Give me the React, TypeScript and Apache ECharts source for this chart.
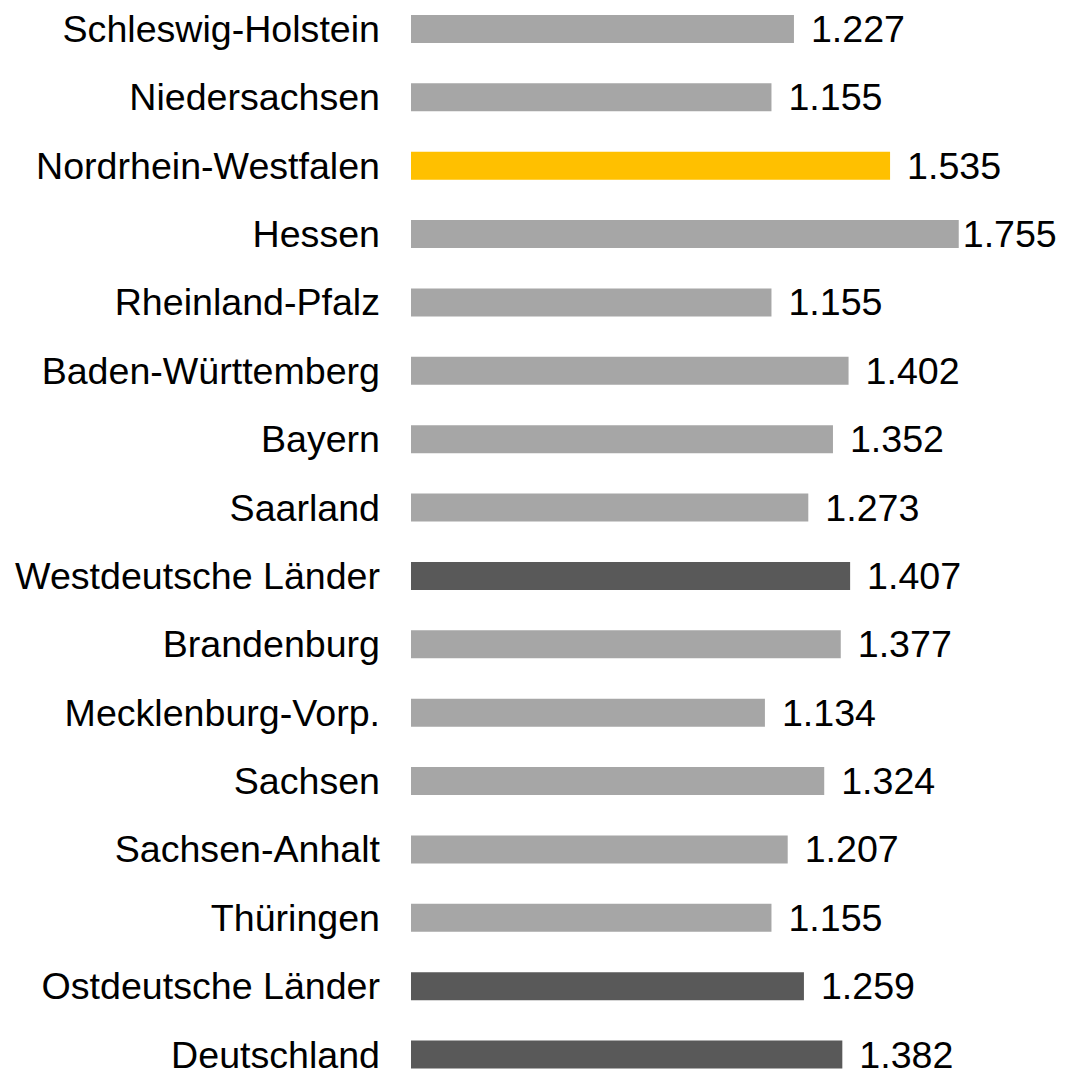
import React, { useEffect, useRef } from "react";
import * as echarts from "echarts";

const categories = [
  "Schleswig-Holstein",
  "Niedersachsen",
  "Nordrhein-Westfalen",
  "Hessen",
  "Rheinland-Pfalz",
  "Baden-Württemberg",
  "Bayern",
  "Saarland",
  "Westdeutsche Länder",
  "Brandenburg",
  "Mecklenburg-Vorp.",
  "Sachsen",
  "Sachsen-Anhalt",
  "Thüringen",
  "Ostdeutsche Länder",
  "Deutschland",
];

const values = [1227, 1155, 1535, 1755, 1155, 1402, 1352, 1273, 1407, 1377, 1134, 1324, 1207, 1155, 1259, 1382];

// bar kind: "state", "highlight", "total"
const kinds = [
  "state", "state", "highlight", "state", "state", "state", "state", "state",
  "total", "state", "state", "state", "state", "state", "total", "total",
];

const colors: Record<string, string> = {
  state: "#A6A6A6",
  highlight: "#FFC000",
  total: "#595959",
};

const fmt = (v: number) => String(v).replace(/\B(?=(\d{3})+(?!\d))/g, ".");

const OFFSET = 20;

export default function App() {
  const ref = useRef<HTMLDivElement>(null);
  useEffect(() => {
    if (!ref.current) return;
    const chart = echarts.init(ref.current, undefined, { renderer: "svg" });
    const font = "Liberation Sans, Arial, sans-serif";
    chart.setOption({
      animation: false,
      grid: { left: 411, top: OFFSET - 5.19, width: 624.2, height: 1094, containLabel: false },
      xAxis: {
        type: "value",
        min: 0,
        max: 2000,
        show: false,
        splitLine: { show: false },
      },
      yAxis: {
        type: "category",
        data: categories,
        inverse: true,
        axisLine: { show: false },
        axisTick: { show: false },
        axisLabel: {
          margin: 31,
          fontSize: 37.6,
          lineHeight: 28,
          color: "#000000",
          fontFamily: font,
        },
      },
      series: [
        {
          type: "bar",
          barWidth: 28,
          data: values.map((v, i) => ({
            value: v,
            itemStyle: { color: colors[kinds[i]] },
            label: { distance: v >= 1700 ? 4 : 17 },
          })),
          label: {
            show: true,
            position: "right",
            distance: 17,
            fontSize: 37.6,
            lineHeight: 28,
            color: "#000000",
            fontFamily: font,
            formatter: (p: any) => fmt(p.value),
          },
        },
      ],
    });
    return () => chart.dispose();
  }, []);
  return (
    <div
      ref={ref}
      style={{ position: "absolute", left: 0, top: -OFFSET, width: 1068, height: 1069 + 2 * OFFSET }}
    />
  );
}
